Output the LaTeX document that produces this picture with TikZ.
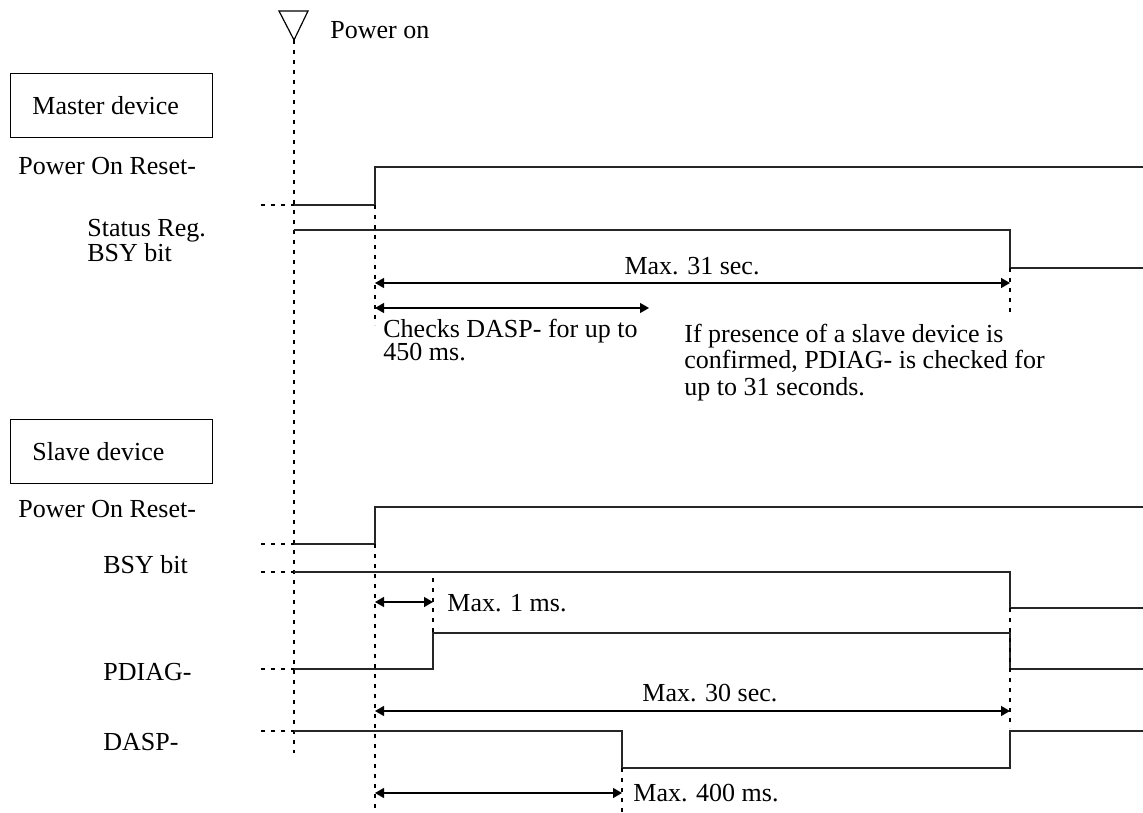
\documentclass[tikz,border=0pt]{standalone}
\usepackage{fontspec}
\setmainfont{Liberation Serif}
\usetikzlibrary{arrows.meta}
\begin{document}
\begin{tikzpicture}[x=0.5pt,y=-0.5pt,
  sig/.style={line width=0.65pt, black!85, line join=miter},
  lead/.style={line width=1pt, dash pattern=on 2pt off 3pt},
  guide/.style={line width=1pt, dash pattern=on 2pt off 3pt},
  dim/.style={line width=0.65pt, {Triangle[length=4.5pt,width=5pt]}-{Triangle[length=4.5pt,width=5pt]}},
  lbl/.style={anchor=base west, inner sep=0pt, font=\fontsize{13}{13}\selectfont},
  mlbl/.style={anchor=base, inner sep=0pt, font=\fontsize{13}{13}\selectfont},
  devbox/.style={draw, line width=0.7pt, anchor=north west, minimum width=101pt, minimum height=32pt, inner sep=0pt}
]
\useasboundingbox (0,0) rectangle (1143,812);

% power on marker
\coordinate (pwrtop) at (294,40);
\coordinate (pwrbot) at (294,753);
\draw[line width=0.6pt] (279,11) -- (308,11) -- (pwrtop) -- cycle;
\node[lbl] (pwron) at (330,39) {Power on};
\draw[guide] (pwrtop) -- (pwrbot);

% ---------------- Master ----------------
\node[devbox] (mbox) at (10,73) {};
\node[lbl] (mboxt) at (32,115) {Master device};
\node[lbl] (mpor) at (18,175) {Power On Reset-};
\node[lbl] (mbsy1) at (87,237) {Status Reg.};
\node[lbl] (mbsy2) at (87,262) {BSY bit};

\draw[lead] (261,205) -- (294,205);
\draw[sig] (294,205) -- (375,205) -- (375,167) -- (1143,167);
\draw[sig] (294,230) -- (1010,230) -- (1010,268) -- (1143,268);

\coordinate (mA) at (375,205);
\coordinate (mAb) at (375,325);
\coordinate (mB) at (1010,268);
\coordinate (mBb) at (1010,317);
\draw[guide] (mA) -- (mAb);
\draw[guide] (mB) -- (mBb);

\coordinate (m31a) at (375,283);
\coordinate (m31b) at (1010,283);
\draw[dim] (m31a) -- (m31b);
\node[mlbl] (m31t) at (692,274) {Max. 31 sec.};

\coordinate (mchka) at (375,308);
\coordinate (mchkb) at (649,308);
\draw[dim] (mchka) -- (mchkb);
\node[lbl] (chk1) at (383,337) {Checks DASP- for up to};
\node[lbl] (chk2) at (383,360) {450 ms.};

\node[lbl] (if1) at (684,342) {If presence of a slave device is};
\node[lbl] (if2) at (684,368) {confirmed, PDIAG- is checked for};
\node[lbl] (if3) at (684,395) {up to 31 seconds.};

% ---------------- Slave ----------------
\node[devbox] (sbox) at (10,419) {};
\node[lbl] (sboxt) at (32,460) {Slave device};
\node[lbl] (spor) at (18,517) {Power On Reset-};
\node[lbl] (sbsy) at (103,573) {BSY bit};
\node[lbl] (spdiag) at (103,680) {PDIAG-};
\node[lbl] (sdasp) at (103,750) {DASP-};

\draw[lead] (261,544) -- (294,544);
\draw[sig] (294,544) -- (375,544) -- (375,507) -- (1143,507);
\draw[lead] (261,572) -- (294,572);
\draw[sig] (294,572) -- (1010,572) -- (1010,608) -- (1143,608);
\draw[lead] (261,669) -- (294,669);
\draw[sig] (294,669) -- (433,669) -- (433,633) -- (1010,633) -- (1010,669) -- (1143,669);
\draw[lead] (261,731) -- (294,731);
\draw[sig] (294,731) -- (622,731) -- (622,768) -- (1010,768) -- (1010,731) -- (1143,731);

\coordinate (sA) at (375,544);
\coordinate (sAb) at (375,812);
\coordinate (sC) at (433,578);
\coordinate (sCb) at (433,633);
\coordinate (sB) at (1010,608);
\coordinate (sBb) at (1010,728);
\coordinate (sD) at (622,768);
\coordinate (sDb) at (622,812);
\draw[guide] (sA) -- (sAb);
\draw[guide] (sC) -- (sCb);
\draw[guide] (sB) -- (sBb);
\draw[guide] (sD) -- (sDb);

\coordinate (s1a) at (375,602);
\coordinate (s1b) at (433,602);
\draw[dim] (s1a) -- (s1b);
\node[lbl] (s1t) at (447,611) {Max. 1 ms.};

\coordinate (s30a) at (375,711);
\coordinate (s30b) at (1010,711);
\draw[dim] (s30a) -- (s30b);
\node[lbl] (s30t) at (642,701) {Max. 30 sec.};

\coordinate (s400a) at (375,793);
\coordinate (s400b) at (622,793);
\draw[dim] (s400a) -- (s400b);
\node[lbl] (s400t) at (633,801) {Max. 400 ms.};
\end{tikzpicture}
\end{document}
